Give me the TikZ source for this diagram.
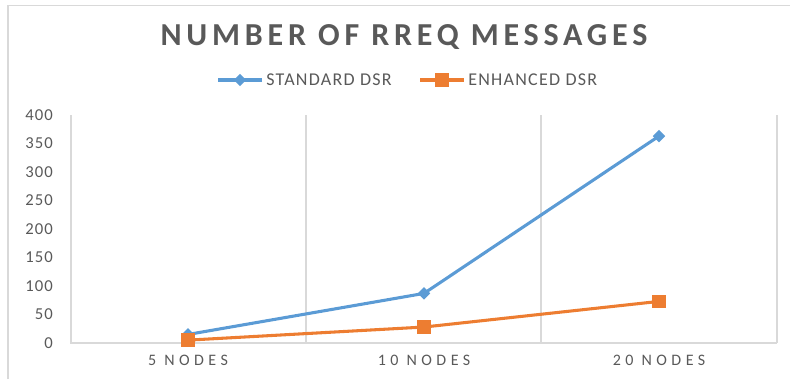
\documentclass[tikz,border=0pt]{standalone}
\usepackage{fontspec}
\setmainfont{Carlito}
\usetikzlibrary{shapes.geometric}
\definecolor{stdblue}{HTML}{5B9BD5}
\definecolor{enhorange}{HTML}{ED7D31}
\definecolor{txtgray}{HTML}{595959}
\definecolor{gridgray}{HTML}{D9D9D9}
\tikzset{
  gridline/.style={draw=gridgray, line width=1.1pt},
  stdline/.style={draw=stdblue, line width=2.3pt, line join=round},
  enhline/.style={draw=enhorange, line width=2.3pt, line join=round},
  stdmark/.style={diamond, fill=stdblue, inner sep=0pt, minimum size=9.5pt},
  enhmark/.style={rectangle, fill=enhorange, inner sep=0pt, minimum size=10pt},
  ylab/.style={anchor=east, text=txtgray, inner sep=0pt,
    font=\fontsize{12.5}{14}\selectfont\addfontfeatures{LetterSpace=6}},
  catlab/.style={text=txtgray, inner sep=0pt,
    font=\fontsize{12}{14}\selectfont\addfontfeatures{LetterSpace=28}},
  leglab/.style={anchor=west, text=txtgray, inner sep=0pt,
    font=\fontsize{13.5}{15}\selectfont\addfontfeatures{LetterSpace=7}},
}
\begin{document}
\begin{tikzpicture}[x=0.75pt, y=-0.75pt]
  \useasboundingbox (0,0) rectangle (790,379);
  % frame
  \draw[gridline] (8,379) -- (8,5.5) -- (790,5.5);
  % title
  \node[text=txtgray, font=\fontsize{24}{27}\bfseries\selectfont\addfontfeatures{LetterSpace=15}] (title) at (404,37) {NUMBER OF RREQ MESSAGES};
  % legend
  \coordinate (lsa) at (218,80);
  \coordinate (lsb) at (262,80);
  \draw[stdline] (lsa) -- (lsb);
  \node[stdmark] (lsm) at (240,80) {};
  \node[leglab] (lst) at (266,80) {STANDARD DSR};
  \coordinate (lea) at (420,80);
  \coordinate (leb) at (464,80);
  \draw[enhline] (lea) -- (leb);
  \node[enhmark] (lem) at (442,80) {};
  \node[leglab] (let) at (468,80) {ENHANCED DSR};
  % grid and axes
  \foreach \gx in {306,541,777}
    \draw[gridline] (\gx,115) -- (\gx,343);
  \draw[gridline] (71,115) -- (71,343) -- (777,343);
  \foreach \v in {0,50,...,400}
    \node[ylab] (y\v) at (53,{343-0.57*\v}) {\v};
  \node[catlab] (c5) at (188,360.5) {5 NODES};
  \node[catlab] (c10) at (424,360.5) {10 NODES};
  \node[catlab] (c20) at (659,360.5) {20 NODES};
  % data
  \coordinate (s1) at (188,{343-0.57*15});
  \coordinate (s2) at (424,{343-0.57*87});
  \coordinate (s3) at (659,{343-0.57*363});
  \coordinate (e1) at (188,{343-0.57*5});
  \coordinate (e2) at (424,{343-0.57*28});
  \coordinate (e3) at (659,{343-0.57*73});
  \draw[stdline] (s1) -- (s2) -- (s3);
  \draw[enhline] (e1) -- (e2) -- (e3);
  \foreach \p in {1,2,3} {
    \node[stdmark] (ms\p) at (s\p) {};
    \node[enhmark] (me\p) at (e\p) {};
  }
\end{tikzpicture}
\end{document}
